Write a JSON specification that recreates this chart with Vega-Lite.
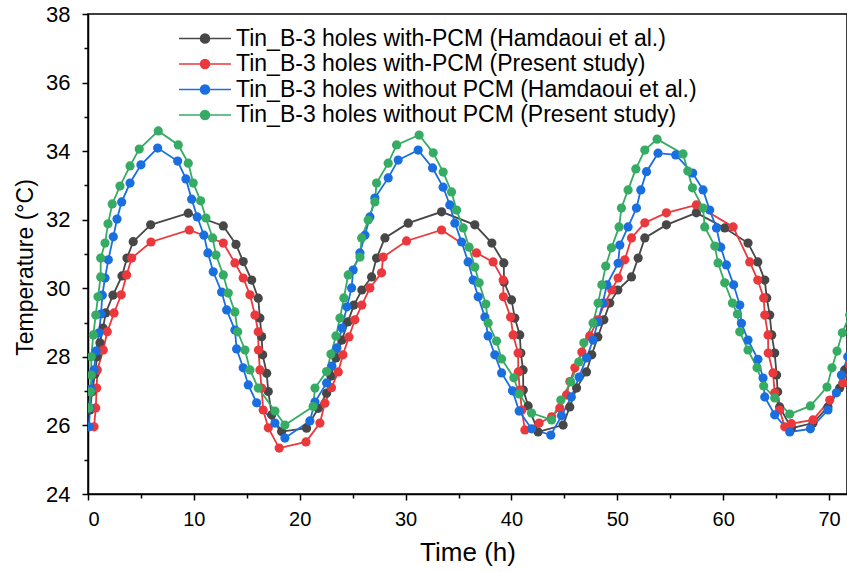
{
  "$schema": "https://vega.github.io/schema/vega-lite/v6.json",
  "width": 759,
  "height": 480,
  "autosize": {"type": "none"},
  "padding": {"left": 88, "top": 14, "right": 0, "bottom": 78},
  "background": "white",
  "config": {
    "view": {"stroke": "black", "strokeWidth": 1.5},
    "font": "Liberation Sans",
    "axis": {
      "grid": false,
      "domainColor": "black",
      "domainWidth": 1.5,
      "tickColor": "black",
      "tickWidth": 1.5,
      "tickSize": 6,
      "labelFont": "Liberation Sans",
      "labelColor": "black",
      "titleFont": "Liberation Sans",
      "titleFontWeight": "normal",
      "titleColor": "black"
    }
  },
  "datasets": {
    "names": [
      {"k": "a", "series": "Tin_B-3 holes with-PCM (Hamdaoui et al.)"},
      {"k": "b", "series": "Tin_B-3 holes with-PCM (Present study)"},
      {"k": "c", "series": "Tin_B-3 holes without PCM (Hamdaoui et al.)"},
      {"k": "d", "series": "Tin_B-3 holes without PCM (Present study)"}
    ],
    "pts": [
      {"k":"a","t":0.19,"T":26.45},{"k":"a","t":0.38,"T":26.98},{"k":"a","t":0.66,"T":27.5},{"k":"a","t":0.85,"T":28.0},{"k":"a","t":1.13,"T":28.41},{"k":"a","t":1.42,"T":28.84},{"k":"a","t":1.67,"T":29.28},{"k":"a","t":2.36,"T":29.8},{"k":"a","t":3.21,"T":30.36},{"k":"a","t":3.68,"T":30.88},{"k":"a","t":4.27,"T":31.36},{"k":"a","t":5.92,"T":31.85},{"k":"a","t":9.47,"T":32.19},{"k":"a","t":12.78,"T":31.82},{"k":"a","t":13.98,"T":31.28},{"k":"a","t":14.66,"T":30.78},{"k":"a","t":15.46,"T":30.24},{"k":"a","t":16.08,"T":29.71},{"k":"a","t":16.24,"T":29.13},{"k":"a","t":16.4,"T":28.59},{"k":"a","t":16.5,"T":28.06},{"k":"a","t":16.88,"T":27.52},{"k":"a","t":17.03,"T":26.99},{"k":"a","t":17.35,"T":26.31},{"k":"a","t":18.29,"T":25.82},{"k":"a","t":20.65,"T":25.92},{"k":"a","t":21.75,"T":26.5},{"k":"a","t":22.54,"T":26.94},{"k":"a","t":22.95,"T":27.44},{"k":"a","t":23.42,"T":27.97},{"k":"a","t":23.99,"T":28.49},{"k":"a","t":24.55,"T":29.02},{"k":"a","t":25.12,"T":29.51},{"k":"a","t":25.87,"T":29.95},{"k":"a","t":26.79,"T":30.33},{"k":"a","t":27.26,"T":30.88},{"k":"a","t":28.05,"T":31.47},{"k":"a","t":30.25,"T":31.9},{"k":"a","t":33.4,"T":32.23},{"k":"a","t":36.54,"T":31.85},{"k":"a","t":38.15,"T":31.32},{"k":"a","t":39.28,"T":30.74},{"k":"a","t":39.3,"T":30.18},{"k":"a","t":40.01,"T":29.66},{"k":"a","t":40.32,"T":29.13},{"k":"a","t":40.79,"T":28.64},{"k":"a","t":40.89,"T":28.11},{"k":"a","t":41.1,"T":27.62},{"k":"a","t":41.12,"T":27.03},{"k":"a","t":41.58,"T":26.57},{"k":"a","t":42.52,"T":25.81},{"k":"a","t":44.88,"T":26.01},{"k":"a","t":45.51,"T":26.54},{"k":"a","t":46.15,"T":27.09},{"k":"a","t":47.09,"T":27.56},{"k":"a","t":47.59,"T":28.06},{"k":"a","t":48.16,"T":28.58},{"k":"a","t":48.73,"T":29.08},{"k":"a","t":49.29,"T":29.57},{"k":"a","t":50.05,"T":29.95},{"k":"a","t":51.34,"T":30.33},{"k":"a","t":51.97,"T":30.88},{"k":"a","t":52.6,"T":31.47},{"k":"a","t":54.64,"T":31.85},{"k":"a","t":57.47,"T":32.2},{"k":"a","t":60.15,"T":31.76},{"k":"a","t":62.35,"T":31.32},{"k":"a","t":63.27,"T":30.77},{"k":"a","t":63.93,"T":30.24},{"k":"a","t":64.12,"T":29.72},{"k":"a","t":64.4,"T":29.22},{"k":"a","t":64.59,"T":28.64},{"k":"a","t":64.87,"T":28.11},{"k":"a","t":65.05,"T":27.47},{"k":"a","t":65.15,"T":26.98},{"k":"a","t":65.34,"T":26.54},{"k":"a","t":66.45,"T":25.92},{"k":"a","t":68.49,"T":26.07},{"k":"a","t":69.9,"T":26.54},{"k":"a","t":71.01,"T":27.09},{"k":"a","t":71.48,"T":27.62},{"k":"a","t":72.0,"T":28.1},
      {"k":"b","t":0.57,"T":25.96},{"k":"b","t":0.73,"T":26.51},{"k":"b","t":0.82,"T":27.09},{"k":"b","t":0.88,"T":27.62},{"k":"b","t":1.44,"T":28.2},{"k":"b","t":1.82,"T":28.73},{"k":"b","t":2.46,"T":29.28},{"k":"b","t":3.14,"T":29.81},{"k":"b","t":3.65,"T":30.39},{"k":"b","t":4.13,"T":30.88},{"k":"b","t":5.95,"T":31.35},{"k":"b","t":9.57,"T":31.7},{"k":"b","t":12.78,"T":31.32},{"k":"b","t":13.88,"T":30.74},{"k":"b","t":14.66,"T":30.3},{"k":"b","t":15.3,"T":29.81},{"k":"b","t":15.77,"T":29.22},{"k":"b","t":16.08,"T":28.73},{"k":"b","t":16.1,"T":28.2},{"k":"b","t":16.24,"T":27.62},{"k":"b","t":16.4,"T":27.09},{"k":"b","t":16.55,"T":26.45},{"k":"b","t":17.03,"T":25.93},{"k":"b","t":18.06,"T":25.34},{"k":"b","t":20.59,"T":25.52},{"k":"b","t":21.91,"T":26.07},{"k":"b","t":22.38,"T":26.65},{"k":"b","t":23.0,"T":27.1},{"k":"b","t":23.64,"T":27.56},{"k":"b","t":24.08,"T":28.06},{"k":"b","t":24.65,"T":28.58},{"k":"b","t":25.21,"T":29.08},{"k":"b","t":25.87,"T":29.51},{"k":"b","t":26.63,"T":30.01},{"k":"b","t":27.73,"T":30.45},{"k":"b","t":27.88,"T":30.91},{"k":"b","t":30.09,"T":31.38},{"k":"b","t":33.4,"T":31.7},{"k":"b","t":36.7,"T":31.03},{"k":"b","t":38.27,"T":30.77},{"k":"b","t":39.22,"T":30.24},{"k":"b","t":39.24,"T":29.75},{"k":"b","t":39.92,"T":29.16},{"k":"b","t":40.16,"T":28.64},{"k":"b","t":40.63,"T":28.11},{"k":"b","t":40.65,"T":27.56},{"k":"b","t":40.79,"T":27.03},{"k":"b","t":40.98,"T":26.45},{"k":"b","t":41.27,"T":25.87},{"k":"b","t":42.62,"T":26.07},{"k":"b","t":43.8,"T":26.25},{"k":"b","t":44.57,"T":26.51},{"k":"b","t":45.2,"T":26.89},{"k":"b","t":45.52,"T":27.28},{"k":"b","t":45.99,"T":27.68},{"k":"b","t":46.65,"T":28.14},{"k":"b","t":47.4,"T":28.61},{"k":"b","t":48.16,"T":29.08},{"k":"b","t":48.82,"T":29.57},{"k":"b","t":49.48,"T":29.95},{"k":"b","t":50.08,"T":30.3},{"k":"b","t":50.71,"T":30.83},{"k":"b","t":51.34,"T":31.47},{"k":"b","t":52.6,"T":31.91},{"k":"b","t":54.64,"T":32.2},{"k":"b","t":57.47,"T":32.43},{"k":"b","t":60.94,"T":31.79},{"k":"b","t":62.51,"T":30.77},{"k":"b","t":63.27,"T":30.24},{"k":"b","t":63.83,"T":29.72},{"k":"b","t":63.93,"T":29.22},{"k":"b","t":64.24,"T":28.64},{"k":"b","t":64.26,"T":28.11},{"k":"b","t":64.71,"T":27.53},{"k":"b","t":64.87,"T":26.95},{"k":"b","t":65.34,"T":26.45},{"k":"b","t":65.82,"T":25.96},{"k":"b","t":66.45,"T":26.05},{"k":"b","t":68.49,"T":26.16},{"k":"b","t":70.07,"T":26.74},{"k":"b","t":71.32,"T":27.24},{"k":"b","t":71.95,"T":27.76},
      {"k":"c","t":0.09,"T":25.96},{"k":"c","t":0.19,"T":26.51},{"k":"c","t":0.28,"T":27.06},{"k":"c","t":0.57,"T":27.62},{"k":"c","t":0.76,"T":28.17},{"k":"c","t":1.04,"T":28.7},{"k":"c","t":1.23,"T":29.25},{"k":"c","t":1.35,"T":29.8},{"k":"c","t":1.61,"T":30.3},{"k":"c","t":1.92,"T":30.83},{"k":"c","t":2.39,"T":31.5},{"k":"c","t":2.74,"T":32.02},{"k":"c","t":3.18,"T":32.52},{"k":"c","t":3.97,"T":33.07},{"k":"c","t":5.0,"T":33.6},{"k":"c","t":6.58,"T":34.09},{"k":"c","t":8.47,"T":33.71},{"k":"c","t":9.25,"T":33.19},{"k":"c","t":9.79,"T":32.6},{"k":"c","t":10.32,"T":32.08},{"k":"c","t":10.95,"T":31.55},{"k":"c","t":11.33,"T":31.03},{"k":"c","t":11.83,"T":30.48},{"k":"c","t":12.62,"T":29.89},{"k":"c","t":13.1,"T":29.37},{"k":"c","t":13.88,"T":28.78},{"k":"c","t":14.04,"T":28.23},{"k":"c","t":14.66,"T":27.68},{"k":"c","t":15.14,"T":27.18},{"k":"c","t":15.93,"T":26.66},{"k":"c","t":17.66,"T":26.07},{"k":"c","t":18.6,"T":25.63},{"k":"c","t":20.96,"T":26.13},{"k":"c","t":21.44,"T":26.68},{"k":"c","t":22.54,"T":27.24},{"k":"c","t":23.04,"T":27.73},{"k":"c","t":23.51,"T":28.26},{"k":"c","t":23.99,"T":28.84},{"k":"c","t":24.46,"T":29.46},{"k":"c","t":24.9,"T":30.01},{"k":"c","t":25.05,"T":30.53},{"k":"c","t":25.69,"T":31.03},{"k":"c","t":26.16,"T":31.55},{"k":"c","t":26.63,"T":32.08},{"k":"c","t":27.1,"T":32.63},{"k":"c","t":28.36,"T":33.22},{"k":"c","t":29.3,"T":33.74},{"k":"c","t":31.19,"T":34.03},{"k":"c","t":32.55,"T":33.51},{"k":"c","t":33.55,"T":32.95},{"k":"c","t":34.18,"T":32.43},{"k":"c","t":34.66,"T":31.9},{"k":"c","t":35.29,"T":31.35},{"k":"c","t":35.91,"T":30.77},{"k":"c","t":36.38,"T":30.24},{"k":"c","t":36.86,"T":29.75},{"k":"c","t":37.49,"T":29.16},{"k":"c","t":37.8,"T":28.61},{"k":"c","t":38.43,"T":28.06},{"k":"c","t":39.07,"T":27.53},{"k":"c","t":40.1,"T":27.01},{"k":"c","t":40.73,"T":26.42},{"k":"c","t":41.9,"T":25.9},{"k":"c","t":43.72,"T":25.72},{"k":"c","t":44.73,"T":26.28},{"k":"c","t":45.66,"T":26.83},{"k":"c","t":46.39,"T":27.41},{"k":"c","t":47.09,"T":27.97},{"k":"c","t":47.71,"T":28.49},{"k":"c","t":48.16,"T":29.02},{"k":"c","t":48.63,"T":29.57},{"k":"c","t":49.01,"T":30.1},{"k":"c","t":50.08,"T":30.73},{"k":"c","t":50.24,"T":31.26},{"k":"c","t":51.02,"T":31.79},{"k":"c","t":51.81,"T":32.34},{"k":"c","t":52.22,"T":32.87},{"k":"c","t":52.76,"T":33.4},{"k":"c","t":53.85,"T":33.94},{"k":"c","t":55.52,"T":33.89},{"k":"c","t":57.12,"T":33.36},{"k":"c","t":58.1,"T":32.87},{"k":"c","t":58.73,"T":32.28},{"k":"c","t":59.37,"T":31.76},{"k":"c","t":59.77,"T":31.2},{"k":"c","t":60.31,"T":30.68},{"k":"c","t":60.99,"T":30.1},{"k":"c","t":61.57,"T":29.51},{"k":"c","t":61.73,"T":28.98},{"k":"c","t":62.35,"T":28.49},{"k":"c","t":63.29,"T":27.93},{"k":"c","t":63.77,"T":27.38},{"k":"c","t":63.93,"T":26.83},{"k":"c","t":64.87,"T":26.31},{"k":"c","t":66.29,"T":25.81},{"k":"c","t":68.24,"T":25.9},{"k":"c","t":69.9,"T":26.45},{"k":"c","t":70.7,"T":26.95},{"k":"c","t":71.17,"T":27.47},{"k":"c","t":71.77,"T":28.0},
      {"k":"d","t":0.09,"T":26.51},{"k":"d","t":0.24,"T":26.98},{"k":"d","t":0.31,"T":27.47},{"k":"d","t":0.31,"T":28.0},{"k":"d","t":0.5,"T":28.64},{"k":"d","t":0.73,"T":29.22},{"k":"d","t":0.94,"T":29.75},{"k":"d","t":1.2,"T":30.33},{"k":"d","t":1.2,"T":30.88},{"k":"d","t":1.61,"T":31.32},{"k":"d","t":1.89,"T":31.88},{"k":"d","t":2.29,"T":32.46},{"k":"d","t":3.02,"T":32.98},{"k":"d","t":3.97,"T":33.57},{"k":"d","t":4.84,"T":34.06},{"k":"d","t":6.64,"T":34.59},{"k":"d","t":8.53,"T":34.18},{"k":"d","t":9.47,"T":33.65},{"k":"d","t":9.94,"T":33.07},{"k":"d","t":10.64,"T":32.55},{"k":"d","t":11.14,"T":32.05},{"k":"d","t":11.77,"T":31.47},{"k":"d","t":12.09,"T":30.97},{"k":"d","t":12.78,"T":30.39},{"k":"d","t":13.25,"T":29.86},{"k":"d","t":13.88,"T":29.31},{"k":"d","t":14.14,"T":28.73},{"k":"d","t":14.83,"T":28.2},{"k":"d","t":15.3,"T":27.62},{"k":"d","t":16.08,"T":27.09},{"k":"d","t":17.66,"T":26.42},{"k":"d","t":18.6,"T":26.01},{"k":"d","t":21.27,"T":26.55},{"k":"d","t":21.44,"T":27.09},{"k":"d","t":22.54,"T":27.57},{"k":"d","t":22.95,"T":28.08},{"k":"d","t":23.42,"T":28.61},{"k":"d","t":23.8,"T":29.13},{"k":"d","t":24.17,"T":29.72},{"k":"d","t":24.58,"T":30.39},{"k":"d","t":25.69,"T":30.91},{"k":"d","t":25.85,"T":31.47},{"k":"d","t":26.47,"T":31.99},{"k":"d","t":27.1,"T":32.52},{"k":"d","t":27.26,"T":33.07},{"k":"d","t":28.36,"T":33.65},{"k":"d","t":29.15,"T":34.18},{"k":"d","t":31.28,"T":34.47},{"k":"d","t":32.61,"T":33.95},{"k":"d","t":33.55,"T":33.39},{"k":"d","t":34.34,"T":32.81},{"k":"d","t":34.82,"T":32.28},{"k":"d","t":35.44,"T":31.76},{"k":"d","t":36.0,"T":31.2},{"k":"d","t":36.54,"T":30.62},{"k":"d","t":36.95,"T":30.16},{"k":"d","t":37.58,"T":29.54},{"k":"d","t":37.8,"T":28.99},{"k":"d","t":38.59,"T":28.46},{"k":"d","t":39.07,"T":27.94},{"k":"d","t":40.23,"T":27.39},{"k":"d","t":40.73,"T":26.92},{"k":"d","t":41.9,"T":26.36},{"k":"d","t":43.79,"T":26.16},{"k":"d","t":44.67,"T":26.74},{"k":"d","t":45.61,"T":27.27},{"k":"d","t":46.36,"T":27.85},{"k":"d","t":46.84,"T":28.41},{"k":"d","t":47.71,"T":28.99},{"k":"d","t":48.19,"T":29.57},{"k":"d","t":48.54,"T":30.1},{"k":"d","t":48.91,"T":30.65},{"k":"d","t":49.45,"T":31.18},{"k":"d","t":50.17,"T":31.79},{"k":"d","t":50.39,"T":32.34},{"k":"d","t":51.02,"T":32.87},{"k":"d","t":51.75,"T":33.48},{"k":"d","t":52.6,"T":34.03},{"k":"d","t":53.76,"T":34.35},{"k":"d","t":56.21,"T":33.92},{"k":"d","t":56.66,"T":33.42},{"k":"d","t":57.1,"T":32.93},{"k":"d","t":58.1,"T":32.34},{"k":"d","t":58.26,"T":31.79},{"k":"d","t":59.21,"T":31.23},{"k":"d","t":59.52,"T":30.74},{"k":"d","t":60.15,"T":30.16},{"k":"d","t":60.88,"T":29.57},{"k":"d","t":61.35,"T":29.25},{"k":"d","t":61.57,"T":28.73},{"k":"d","t":62.35,"T":28.2},{"k":"d","t":63.2,"T":27.68},{"k":"d","t":63.83,"T":27.15},{"k":"d","t":64.87,"T":26.8},{"k":"d","t":66.29,"T":26.33},{"k":"d","t":68.24,"T":26.57},{"k":"d","t":69.81,"T":27.12},{"k":"d","t":70.28,"T":27.68},{"k":"d","t":70.76,"T":28.17},{"k":"d","t":71.26,"T":28.7},{"k":"d","t":71.95,"T":29.22}
    ]
  },
  "data": {"name": "pts"},
  "transform": [
    {"lookup": "k", "from": {"data": {"name": "names"}, "key": "k", "fields": ["series"]}}
  ],
  "layer": [
    {
      "mark": {"type": "line", "strokeWidth": 1.8, "clip": true, "point": {"filled": true, "size": 85, "opacity": 1}},
      "encoding": {
        "x": {
          "field": "t", "type": "quantitative",
          "scale": {"domain": [0, 71.7], "nice": false, "zero": false},
          "axis": {"values": [0, 10, 20, 30, 40, 50, 60, 70], "title": "Time (h)", "titleFontSize": 26, "titlePadding": 10, "labelPadding": 9, "labelFontSize": 20}
        },
        "y": {
          "field": "T", "type": "quantitative",
          "scale": {"domain": [24, 38], "nice": false, "zero": false},
          "axis": {"values": [24, 26, 28, 30, 32, 34, 36, 38], "title": "Temperature (°C)", "titleFontSize": 23, "titlePadding": 8, "titleY": 253, "labelPadding": 12, "labelFontSize": 22}
        },
        "color": {
          "field": "series", "type": "nominal",
          "scale": {
            "domain": ["Tin_B-3 holes with-PCM (Hamdaoui et al.)", "Tin_B-3 holes with-PCM (Present study)", "Tin_B-3 holes without PCM (Hamdaoui et al.)", "Tin_B-3 holes without PCM (Present study)"],
            "range": ["#474747", "#eb383c", "#1a6fe0", "#36ab64"]
          },
          "legend": {
            "title": null,
            "orient": "none",
            "legendX": 90,
            "legendY": 12,
            "padding": 0,
            "symbolType": "M-1,0L1,0M-0.173,0A0.173,0.173,0,1,1,0.173,0A0.173,0.173,0,1,1,-0.173,0Z",
            "symbolSize": 2704,
            "symbolStrokeWidth": 1.5,
            "labelFont": "Liberation Sans",
            "labelFontSize": 23,
            "labelColor": "black",
            "labelOffset": 4,
            "labelLimit": 700,
            "clipHeight": 25,
            "rowPadding": 0.5,
            "encode": {
              "symbols": {"update": {"fill": {"scale": "color", "field": "value"}, "stroke": {"scale": "color", "field": "value"}, "opacity": {"value": 1}}}
            }
          }
        },
        "order": {"value": null}
      }
    },
    {
      "mark": {"type": "point", "opacity": 0},
      "encoding": {
        "x": {"field": "t", "type": "quantitative", "axis": {"orient": "bottom", "values": [5, 15, 25, 35, 45, 55, 65], "labels": false, "domain": false, "tickSize": 4, "title": null}},
        "y": {"field": "T", "type": "quantitative", "axis": {"orient": "left", "values": [25, 27, 29, 31, 33, 35, 37], "labels": false, "domain": false, "tickSize": 4, "title": null}}
      }
    }
  ],
  "resolve": {"axis": {"x": "independent", "y": "independent"}}
}
